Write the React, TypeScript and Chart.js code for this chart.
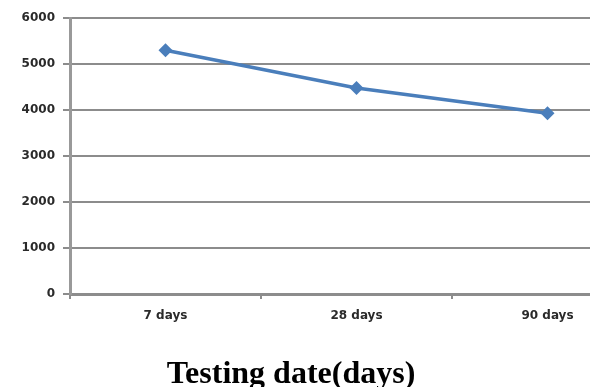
import React, { useEffect, useRef } from "react";
import { Chart, registerables } from "chart.js";

Chart.register(...registerables);

const categories = ["7 days", "28 days", "90 days"];
const strengthValues = [5300, 4480, 3930];
const yTicks = [0, 1000, 2000, 3000, 4000, 5000, 6000];
const xTitle = "Testing date(days)";

export default function App() {
  const canvasRef = useRef<HTMLCanvasElement | null>(null);

  useEffect(() => {
    const canvas = canvasRef.current;
    if (!canvas) return;
    const chart = new Chart(canvas, {
      type: "line",
      data: {
        labels: categories,
        datasets: [
          {
            data: strengthValues,
            borderColor: "#4a7ebb",
            backgroundColor: "#4a7ebb",
            borderWidth: 3.5,
            pointStyle: "rectRot",
            pointRadius: 7,
            pointBorderWidth: 0,
            tension: 0,
          },
        ],
      },
      options: {
        responsive: false,
        animation: false,
        layout: { padding: { top: 18, bottom: 0, left: 0, right: 2 } },
        plugins: {
          legend: { display: false },
          tooltip: { enabled: false },
          title: { display: false },
        },
        scales: {
          x: {
            type: "category",
            offset: true,
            grid: {
              offset: true,
              drawOnChartArea: false,
              drawTicks: true,
              tickLength: 5,
              color: "#8c8c8c",
              lineWidth: 2,
            },
            border: { display: true, color: "#8c8c8c", width: 3 },
            ticks: {
              padding: 10,
              color: "#2a2a2a",
              font: { family: "DejaVu Sans", size: 12, weight: "bold" },
              maxRotation: 0,
            },
            afterFit: (scale: any) => {
              scale.height = 93;
            },
          },
          y: {
            min: 0,
            max: 6000,
            afterBuildTicks: (scale: any) => {
              scale.ticks = yTicks.map((v) => ({ value: v }));
            },
            grid: {
              color: "#8c8c8c",
              lineWidth: 2,
              drawTicks: true,
              tickLength: 7,
            },
            border: { display: true, color: "#999999", width: 3 },
            ticks: {
              padding: 8,
              color: "#2a2a2a",
              font: { family: "DejaVu Sans", size: 12, weight: "bold" },
              callback: (value: any) => String(value),
            },
            afterFit: (scale: any) => {
              scale.width = 70;
            },
          },
        },
      },
    });
    return () => chart.destroy();
  }, []);

  return (
    <div
      style={{
        position: "absolute",
        left: 0,
        top: 0,
        width: 590,
        height: 387,
        overflow: "hidden",
        background: "#ffffff",
      }}
    >
      <canvas ref={canvasRef} width={650} height={387} style={{ position: "absolute", left: 0, top: 0 }} />
      <div
        style={{
          position: "absolute",
          left: 0,
          top: 356,
          width: 582,
          textAlign: "center",
          fontFamily: "'Liberation Serif', 'Times New Roman', serif",
          fontWeight: "bold",
          fontSize: 32,
          lineHeight: "32px",
          color: "#000",
          whiteSpace: "nowrap",
        }}
      >
        {xTitle}
      </div>
    </div>
  );
}
